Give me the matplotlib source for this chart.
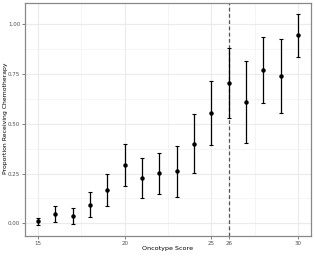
import matplotlib
matplotlib.use("Agg")
import matplotlib.pyplot as plt
import numpy as np

score = [15, 16, 17, 18, 19, 20, 21, 22, 23, 24, 25, 26, 27, 28, 29, 30]
prop = [0.010, 0.045, 0.035, 0.092, 0.167, 0.294, 0.226, 0.254, 0.261, 0.400,
        0.553, 0.705, 0.610, 0.770, 0.740, 0.946]
lower = [-0.010, 0.005, -0.005, 0.030, 0.085, 0.189, 0.126, 0.147, 0.131, 0.254,
         0.393, 0.529, 0.405, 0.604, 0.556, 0.837]
upper = [0.025, 0.087, 0.075, 0.156, 0.248, 0.397, 0.330, 0.356, 0.390, 0.548,
         0.715, 0.882, 0.814, 0.936, 0.925, 1.055]
cutoff = 26
xticks = [15, 20, 25, 26, 30]
yticks = [0.00, 0.25, 0.50, 0.75, 1.00]

prop = np.array(prop)
yerr = [prop - np.array(lower), np.array(upper) - prop]

fig = plt.figure(figsize=(3.15, 2.56), dpi=100)
ax = fig.add_axes([25 / 315, 20 / 256, 286 / 315, 233 / 256])

# minor grid
for x in [17.5, 22.5, 27.5]:
    ax.axvline(x, color="#f2f2f2", lw=0.5, zorder=0)
for y in [0.125, 0.375, 0.625, 0.875]:
    ax.axhline(y, color="#f2f2f2", lw=0.5, zorder=0)
ax.grid(True, color="#ebebeb", lw=0.8, zorder=0)
ax.set_axisbelow(True)

ax.errorbar(score, prop, yerr=yerr, fmt="o", color="black", ms=2.2,
            elinewidth=0.9, capsize=1.2, capthick=0.8, zorder=3)
ax.axvline(cutoff, color="#555555", lw=0.9, ls=(0, (3, 2)), zorder=2)

ax.set_xlim(14.25, 30.75)
ax.set_ylim(-0.064, 1.108)
ax.set_xticks(xticks)
ax.set_xticklabels([str(t) for t in xticks])
ax.set_yticks(yticks)
ax.set_yticklabels(["%.2f" % t for t in yticks])
ax.tick_params(labelsize=4.0, colors="#4d4d4d", length=2, width=0.5, pad=1.5)
for s in ax.spines.values():
    s.set_color("#888888")
    s.set_linewidth(0.9)

ax.set_xlabel("Oncotype Score", fontsize=4.6)
ax.set_ylabel("Proportion Receiving Chemotherapy", fontsize=4.4)
ax.xaxis.set_label_coords(0.5, -0.052)
ax.yaxis.set_label_coords(-0.068, 0.506)
ax.xaxis.label.set_va("center")
ax.yaxis.label.set_va("center")

fig.savefig("out.png", dpi=100)
